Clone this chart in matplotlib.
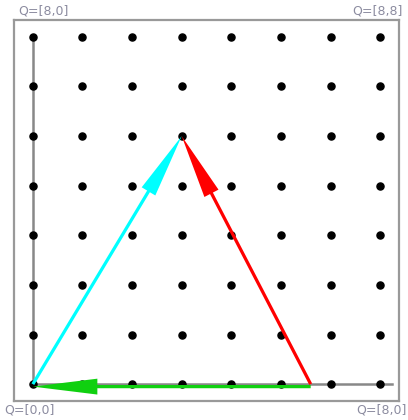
import numpy as np
import matplotlib
matplotlib.use("Agg")
from matplotlib import pyplot as plt

# lattice size (points 0..N-1 in each direction)
N = 8

# vectors: start point and end point
vec_names = ["u", "v", "w"]
vec_start = [(0.0, 0.0), (5.6, 0.0), (5.6, -0.05)]
vec_end = [(3.0, 5.0), (3.0, 5.0), (0.0, -0.05)]
vec_colors = ["#00ffff", "#ff0000", "#10d010"]

# corner labels
corner_text = ["Q=[0,0]", "Q=[8,0]", "Q=[8,8]", "Q=[8,0]"]


def main():
  fig = plt.figure(figsize=(4.08, 4.20), dpi=100)
  ax = fig.add_axes([14 / 408, 19 / 420, 385 / 408, 381 / 420])
  ax.set_xlim(-0.38, 7.38)
  ax.set_ylim(-0.34, 7.34)
  ax.set_xticks([])
  ax.set_yticks([])
  for s in ax.spines.values():
    s.set_color("#999999")
    s.set_linewidth(1.6)

  # axis lines through the origin
  ax.plot([0, 0], [0, N - 1], color="#888888", lw=1.8, zorder=1)
  ax.plot([0, N - 0.76], [0, 0], color="#888888", lw=1.8, zorder=1)

  gx, gy = np.meshgrid(np.arange(N), np.arange(N))
  ax.scatter(gx.ravel(), gy.ravel(), s=26, color="black", zorder=3)

  for (x0, y0), (x1, y1), c in zip(vec_start, vec_end, vec_colors):
    ax.arrow(x0, y0, x1 - x0, y1 - y0, width=0.065, head_width=0.32,
             head_length=1.3, length_includes_head=True, color=c,
             lw=0, zorder=4)

  lab = dict(fontsize=9, color="#8c8ca0")
  fig.text(4 / 408, 1 - 410 / 420, corner_text[0], ha="left", va="center", **lab)
  fig.text(18 / 408, 1 - 11 / 420, corner_text[1], ha="left", va="center", **lab)
  fig.text(403 / 408, 1 - 11 / 420, corner_text[2], ha="right", va="center", **lab)
  fig.text(407 / 408, 1 - 410 / 420, corner_text[3], ha="right", va="center", **lab)

  fig.savefig("out.png", dpi=100)

if __name__ == "__main__":
  main()
